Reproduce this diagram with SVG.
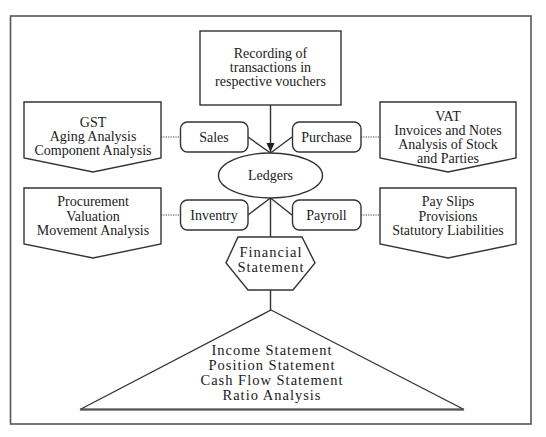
<svg xmlns="http://www.w3.org/2000/svg" width="546" height="437" viewBox="0 0 546 437">
<style>
  .t{font-family:"Liberation Serif","Times New Roman",serif;font-size:14px;fill:#222;text-anchor:middle}
  .b{font-family:"Liberation Serif","Times New Roman",serif;font-size:14.5px;fill:#1a1a1a;text-anchor:middle;letter-spacing:1px}
  .s{fill:#fff;stroke:#333;stroke-width:1.4}
  .c{fill:none;stroke:#333;stroke-width:1.4}
  .d{fill:none;stroke:#444;stroke-width:1.2;stroke-dasharray:1.2 1.2}
</style>
<defs>
  <marker id="arr" markerWidth="10" markerHeight="10" refX="9" refY="4" orient="auto" markerUnits="userSpaceOnUse">
    <path d="M0,0 L9,4 L0,8 Z" fill="#222"/>
  </marker>
</defs>
<rect x="10.5" y="16" width="520.5" height="408" fill="#fff" stroke="#555" stroke-width="1.6"/>
<g id="connectors">
  <line class="c" x1="270.5" y1="105" x2="270.5" y2="152" marker-end="url(#arr)"/>
  <line class="c" x1="248" y1="137" x2="270.5" y2="153"/>
  <line class="c" x1="292" y1="137" x2="270.5" y2="153"/>
  <line class="c" x1="270.5" y1="198" x2="248" y2="215"/>
  <line class="c" x1="270.5" y1="198" x2="292" y2="215"/>
  <line class="c" x1="270.5" y1="198" x2="270.5" y2="237"/>
  <line class="c" x1="270.5" y1="290" x2="270.5" y2="310"/>
  <line class="d" x1="161" y1="137" x2="180" y2="137"/>
  <line class="d" x1="361" y1="137" x2="380" y2="137"/>
  <line class="d" x1="161" y1="215" x2="180" y2="215"/>
  <line class="d" x1="361" y1="215" x2="380" y2="215"/>
</g>
<g id="recording">
  <rect class="s" x="200" y="31" width="141" height="74"/>
  <text class="t" x="270.5" y="57.5">Recording of</text>
  <text class="t" x="270.5" y="71.5">transactions in</text>
  <text class="t" x="270.5" y="86">respective vouchers</text>
</g>
<g id="gst">
  <polygon class="s" points="24,102 161,102 161,158 93,172 24,158"/>
  <text class="t" x="93" y="126.5">GST</text>
  <text class="t" x="93" y="140.5">Aging Analysis</text>
  <text class="t" x="93" y="154.5">Component Analysis</text>
</g>
<g id="vat">
  <polygon class="s" points="380,102 516,102 516,158 448,172 380,158"/>
  <text class="t" x="448" y="120.5">VAT</text>
  <text class="t" x="448" y="134.5">Invoices and Notes</text>
  <text class="t" x="448" y="148.5">Analysis of Stock</text>
  <text class="t" x="448" y="162.5">and Parties</text>
</g>
<g id="procurement">
  <polygon class="s" points="24,188 161,188 161,244 93,258 24,244"/>
  <text class="t" x="93" y="206">Procurement</text>
  <text class="t" x="93" y="220.5">Valuation</text>
  <text class="t" x="93" y="235">Movement Analysis</text>
</g>
<g id="payslips">
  <polygon class="s" points="380,188 516,188 516,244 448,258 380,244"/>
  <text class="t" x="448" y="206">Pay Slips</text>
  <text class="t" x="448" y="220.5">Provisions</text>
  <text class="t" x="448" y="235">Statutory Liabilities</text>
</g>
<g id="sales">
  <rect class="s" x="180.5" y="122" width="67.5" height="30" rx="7"/>
  <text class="t" x="214" y="141.5">Sales</text>
</g>
<g id="purchase">
  <rect class="s" x="292.5" y="122" width="68.5" height="30" rx="7"/>
  <text class="t" x="326.5" y="141.5">Purchase</text>
</g>
<g id="ledgers">
  <ellipse class="s" cx="270.5" cy="175.5" rx="52" ry="22.5"/>
  <text class="t" x="270.5" y="180">Ledgers</text>
</g>
<g id="inventry">
  <rect class="s" x="180.5" y="200" width="67.5" height="30" rx="7"/>
  <text class="t" x="214" y="219.5">Inventry</text>
</g>
<g id="payroll">
  <rect class="s" x="292.5" y="200" width="68.5" height="30" rx="7"/>
  <text class="t" x="326.5" y="219.5">Payroll</text>
</g>
<g id="financial">
  <polygon class="s" points="238,237 302,237 315,263 293,290 248,290 226,263"/>
  <text class="b" x="271" y="257">Financial</text>
  <text class="b" x="271" y="272">Statement</text>
</g>
<g id="statements">
  <polygon class="c" points="271,310 464,409.5 80,409.5" fill="#fff"/>
  <line x1="80" y1="409.5" x2="464" y2="409.5" stroke="#555" stroke-width="2"/>
  <text class="b" x="272" y="354.5">Income Statement</text>
  <text class="b" x="272" y="369.5">Position Statement</text>
  <text class="b" x="272" y="384.5">Cash Flow Statement</text>
  <text class="b" x="272" y="400">Ratio Analysis</text>
</g>
</svg>
